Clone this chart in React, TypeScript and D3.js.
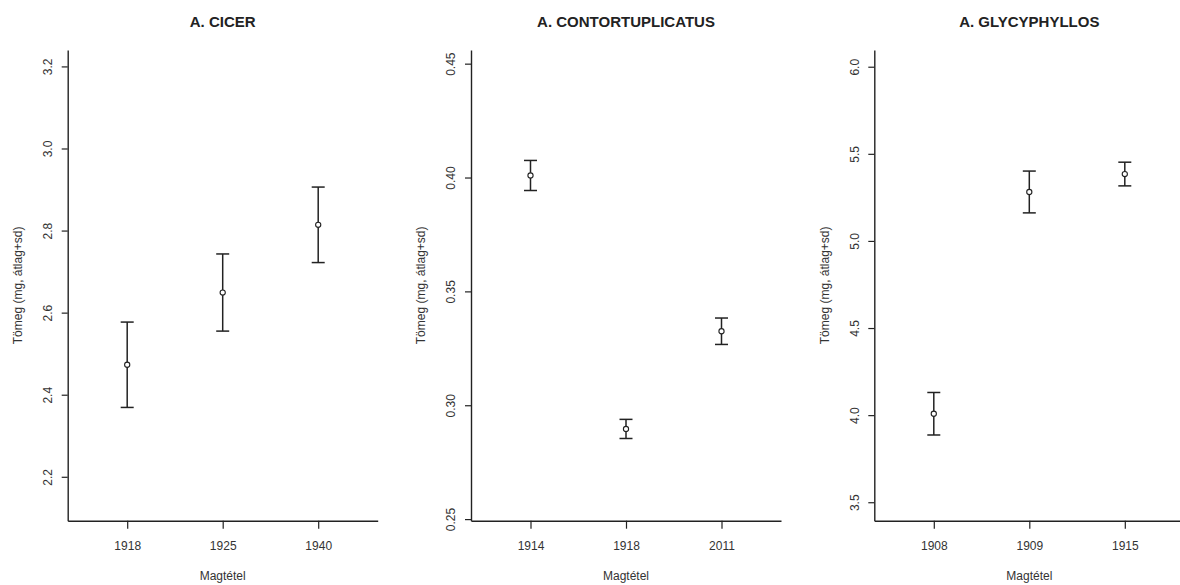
import * as d3 from 'd3';
import React, { useRef, useEffect } from 'react';

// chart data
const titles = ["A. CICER", "A. CONTORTUPLICATUS", "A. GLYCYPHYLLOS"];

const cicerYears = ["1918", "1925", "1940"];
const cicerMean = [2.473, 2.649, 2.814];
const cicerSd = [0.104, 0.094, 0.092];
const cicerTicks = [2.2, 2.4, 2.6, 2.8, 3.0, 3.2];

const contortYears = ["1914", "1918", "2011"];
const contortMean = [0.4009, 0.2896, 0.3325];
const contortSd = [0.0066, 0.0042, 0.0058];
const contortTicks = [0.25, 0.30, 0.35, 0.40, 0.45];

const glycyYears = ["1908", "1909", "1915"];
const glycyMean = [4.008, 5.281, 5.384];
const glycySd = [0.122, 0.12, 0.068];
const glycyTicks = [3.5, 4.0, 4.5, 5.0, 5.5, 6.0];

const xLabel = "Magtétel";
const yLabel = "Tömeg (mg, átlag+sd)";

const W = 1180;
const H = 585;

const panels = [
    { title: titles[0], years: cicerYears, mean: cicerMean, sd: cicerSd, ticks: cicerTicks, domain: [2.093, 3.24], fmt: ".1f", left: 67.7 },
    { title: titles[1], years: contortYears, mean: contortMean, sd: contortSd, ticks: contortTicks, domain: [0.2493, 0.456], fmt: ".2f", left: 471 },
    { title: titles[2], years: glycyYears, mean: glycyMean, sd: glycySd, ticks: glycyTicks, domain: [3.394, 6.096], fmt: ".1f", left: 874.3 },
];

const top = 50;
const bottom = 520.7;
const plotW = 310;
const font = "'Liberation Sans', Arial, sans-serif";
const ink = "#222";
const textInk = "#333";

function App() {
    const ref = useRef(null);

    useEffect(() => {
        const svg = d3.select(ref.current);
        svg.selectAll("*").remove();

        panels.forEach(p => {
            const x = d3.scalePoint()
                .domain(p.years)
                .range([p.left, p.left + plotW])
                .padding(0.623);
            const y = d3.scaleLinear()
                .domain(p.domain)
                .range([bottom, top]);

            const g = svg.append("g");

            // title
            g.append("text")
                .attr("x", x(p.years[1]))
                .attr("y", 27)
                .attr("text-anchor", "middle")
                .attr("font-family", font)
                .attr("font-weight", "bold")
                .attr("font-size", "15px")
                .attr("fill", ink)
                .text(p.title);

            // y axis, R style with rotated labels
            const yAxis = g.append("g")
                .attr("transform", `translate(${p.left},0)`)
                .call(d3.axisLeft(y).tickValues(p.ticks).tickFormat(d3.format(p.fmt)).tickSize(6).tickSizeOuter(0));
            yAxis.select(".domain").attr("stroke", ink).attr("stroke-width", 1.4);
            yAxis.selectAll(".tick line").attr("stroke", ink).attr("stroke-width", 1.2);
            yAxis.selectAll(".tick text")
                .attr("transform", "rotate(-90)")
                .attr("x", 0)
                .attr("y", -20)
                .attr("dy", "0.35em")
                .attr("text-anchor", "middle")
                .attr("font-family", font)
                .attr("font-size", "12px")
                .attr("fill", textInk);

            // x axis
            const xAxis = g.append("g")
                .attr("transform", `translate(0,${bottom})`)
                .call(d3.axisBottom(x).tickSize(8).tickSizeOuter(0));
            xAxis.select(".domain").attr("stroke", ink).attr("stroke-width", 1.4);
            xAxis.selectAll(".tick line").attr("stroke", ink).attr("stroke-width", 1.2);
            xAxis.selectAll(".tick text")
                .attr("y", 21)
                .attr("dy", "0.71em")
                .attr("font-family", font)
                .attr("font-size", "12px")
                .attr("fill", textInk);

            // axis titles
            g.append("text")
                .attr("x", x(p.years[1]))
                .attr("y", 580)
                .attr("text-anchor", "middle")
                .attr("font-family", font)
                .attr("font-size", "12px")
                .attr("fill", textInk)
                .text(xLabel);

            g.append("text")
                .attr("transform", `translate(${p.left - 50},${(top + bottom) / 2}) rotate(-90)`)
                .attr("dy", "0.35em")
                .attr("text-anchor", "middle")
                .attr("font-family", font)
                .attr("font-size", "12px")
                .attr("fill", textInk)
                .text(yLabel);

            // error bars
            const rows = p.years.map((yr, i) => ({ yr, m: p.mean[i], s: p.sd[i] }));
            const bars = g.selectAll("g.bar").data(rows).enter().append("g").attr("class", "bar");
            bars.append("line")
                .attr("x1", d => x(d.yr)).attr("x2", d => x(d.yr))
                .attr("y1", d => y(d.m - d.s)).attr("y2", d => y(d.m + d.s))
                .attr("stroke", ink).attr("stroke-width", 1.5);
            bars.append("line")
                .attr("x1", d => x(d.yr) - 6.5).attr("x2", d => x(d.yr) + 6.5)
                .attr("y1", d => y(d.m + d.s)).attr("y2", d => y(d.m + d.s))
                .attr("stroke", ink).attr("stroke-width", 1.5);
            bars.append("line")
                .attr("x1", d => x(d.yr) - 6.5).attr("x2", d => x(d.yr) + 6.5)
                .attr("y1", d => y(d.m - d.s)).attr("y2", d => y(d.m - d.s))
                .attr("stroke", ink).attr("stroke-width", 1.5);
            bars.append("circle")
                .attr("cx", d => x(d.yr))
                .attr("cy", d => y(d.m))
                .attr("r", 2.6)
                .attr("fill", "white")
                .attr("stroke", ink)
                .attr("stroke-width", 1.1);
        });
    }, []);

    return (
        <svg ref={ref} width={W} height={H}
            style={{ position: "absolute", left: 0, top: 0, background: "white" }}>
        </svg>
    );
}

export default App;
